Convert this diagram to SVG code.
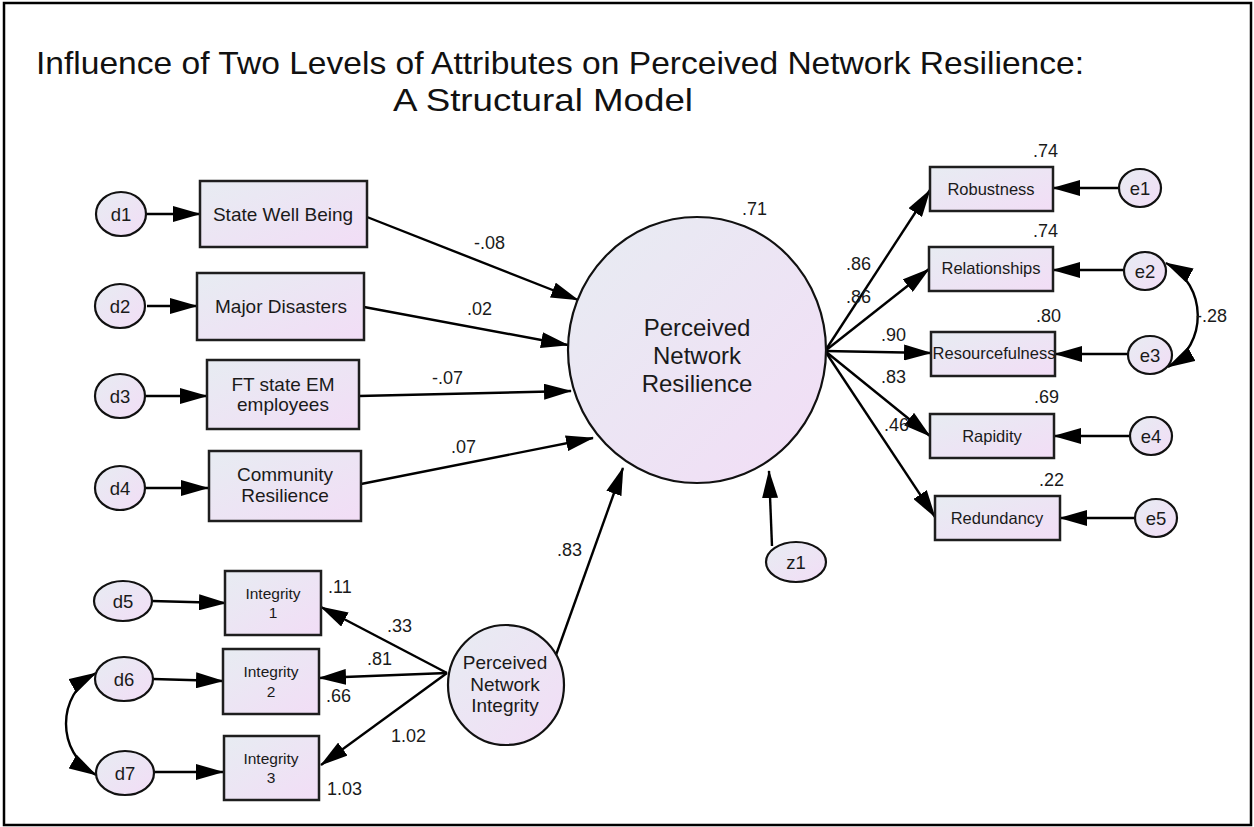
<svg xmlns="http://www.w3.org/2000/svg" width="1254" height="827" viewBox="0 0 1254 827">
<defs>
<linearGradient id="g" x1="0" y1="0" x2="1" y2="1">
<stop offset="0" stop-color="#e7ecf2"/>
<stop offset="1" stop-color="#f2ddf6"/>
</linearGradient>
<marker id="ah" markerUnits="userSpaceOnUse" markerWidth="28" markerHeight="16" refX="27" refY="8" orient="auto-start-reverse">
<path d="M0,0 L28,8 L0,16 z" fill="#000"/>
</marker>
<style>
.box{fill:url(#g);stroke:#1e1e1e;stroke-width:2.5}
.ell{fill:url(#g);stroke:#111;stroke-width:2.2}
.t{font-family:"Liberation Sans",Arial,sans-serif;fill:#1a1a1a;text-anchor:middle}
.lb{font-family:"Liberation Sans",Arial,sans-serif;fill:#1a1a1a;font-size:18px}
.c line,.c path{stroke:#000;stroke-width:2.4;fill:none}
</style>
</defs>
<rect x="0" y="0" width="1254" height="827" fill="#fff"/>
<rect x="4" y="3" width="1247" height="822" fill="none" stroke="#000" stroke-width="2.5"/>
<g id="title" font-family="Liberation Sans, Arial, sans-serif" font-size="32" fill="#111">
<text x="36" y="74" textLength="1048" lengthAdjust="spacingAndGlyphs">Influence of Two Levels of Attributes on Perceived Network  Resilience:</text>
<text x="393" y="111" textLength="300" lengthAdjust="spacingAndGlyphs">A Structural Model</text>
</g>
<g class="c" id="connectors">
<line x1="147" y1="214" x2="200" y2="214" marker-end="url(#ah)"/>
<line x1="147" y1="306" x2="197" y2="306" marker-end="url(#ah)"/>
<line x1="146" y1="396" x2="207" y2="396" marker-end="url(#ah)"/>
<line x1="146" y1="488" x2="208" y2="488" marker-end="url(#ah)"/>
<line x1="152" y1="601" x2="226" y2="603" marker-end="url(#ah)"/>
<line x1="153" y1="679" x2="223" y2="681" marker-end="url(#ah)"/>
<line x1="154" y1="772" x2="223" y2="772" marker-end="url(#ah)"/>
<line x1="367" y1="217" x2="578" y2="300" marker-end="url(#ah)"/>
<line x1="364" y1="307" x2="568" y2="345" marker-end="url(#ah)"/>
<line x1="359" y1="396" x2="571" y2="391" marker-end="url(#ah)"/>
<line x1="361" y1="484" x2="593" y2="438" marker-end="url(#ah)"/>
<line x1="556" y1="655" x2="623" y2="468" marker-end="url(#ah)"/>
<line x1="772" y1="546" x2="769" y2="471" marker-end="url(#ah)"/>
<line x1="447" y1="673" x2="321" y2="607" marker-end="url(#ah)"/>
<line x1="447" y1="673" x2="319" y2="678" marker-end="url(#ah)"/>
<line x1="447" y1="673" x2="321" y2="765" marker-end="url(#ah)"/>
<line x1="825" y1="351" x2="930" y2="190" marker-end="url(#ah)"/>
<line x1="825" y1="351" x2="929" y2="269" marker-end="url(#ah)"/>
<line x1="825" y1="351" x2="931" y2="353" marker-end="url(#ah)"/>
<line x1="825" y1="351" x2="930" y2="436" marker-end="url(#ah)"/>
<line x1="825" y1="351" x2="935" y2="517" marker-end="url(#ah)"/>
<line x1="1119" y1="188" x2="1053" y2="188" marker-end="url(#ah)"/>
<line x1="1124" y1="270" x2="1053" y2="270" marker-end="url(#ah)"/>
<line x1="1128" y1="354" x2="1055" y2="354" marker-end="url(#ah)"/>
<line x1="1130" y1="436" x2="1054" y2="436" marker-end="url(#ah)"/>
<line x1="1135" y1="518" x2="1060" y2="518" marker-end="url(#ah)"/>
<path d="M1166,263 C1208,285 1208,345 1168,367" marker-start="url(#ah)" marker-end="url(#ah)"/>
<path d="M96,673 C56,695 56,752 96,775" marker-start="url(#ah)" marker-end="url(#ah)"/>
</g>
<g id="d1"><ellipse class="ell" cx="121" cy="214" rx="25" ry="22"/><text class="t" x="121" y="221" font-size="18.5">d1</text></g>
<g id="d2"><ellipse class="ell" cx="120" cy="306" rx="25" ry="22"/><text class="t" x="120" y="313" font-size="18.5">d2</text></g>
<g id="d3"><ellipse class="ell" cx="120" cy="396" rx="25" ry="22"/><text class="t" x="120" y="403" font-size="18.5">d3</text></g>
<g id="d4"><ellipse class="ell" cx="120" cy="488" rx="25" ry="22"/><text class="t" x="120" y="495" font-size="18.5">d4</text></g>
<g id="d5"><ellipse class="ell" cx="123" cy="601" rx="29" ry="20"/><text class="t" x="123" y="608" font-size="18.5">d5</text></g>
<g id="d6"><ellipse class="ell" cx="124" cy="679" rx="29" ry="22"/><text class="t" x="124" y="686" font-size="18.5">d6</text></g>
<g id="d7"><ellipse class="ell" cx="125" cy="773" rx="29" ry="22"/><text class="t" x="125" y="780" font-size="18.5">d7</text></g>
<g id="swb"><rect class="box" x="200" y="181" width="167" height="66"/><text class="t" x="283" y="221" font-size="19">State Well Being</text></g>
<g id="md"><rect class="box" x="197" y="273" width="167" height="67"/><text class="t" x="281" y="313" font-size="19">Major Disasters</text></g>
<g id="ft"><rect class="box" x="207" y="360" width="152" height="69"/><text class="t" x="283" y="391" font-size="19">FT state EM</text><text class="t" x="283" y="411" font-size="19">employees</text></g>
<g id="cr"><rect class="box" x="209" y="451" width="152" height="70"/><text class="t" x="285" y="481" font-size="19">Community</text><text class="t" x="285" y="502" font-size="19">Resilience</text></g>
<g id="i1"><rect class="box" x="225" y="571" width="96" height="64"/><text class="t" x="273" y="599" font-size="15.5">Integrity</text><text class="t" x="273" y="618" font-size="15.5">1</text></g>
<g id="i2"><rect class="box" x="223" y="649" width="96" height="65"/><text class="t" x="271" y="677" font-size="15.5">Integrity</text><text class="t" x="271" y="697" font-size="15.5">2</text></g>
<g id="i3"><rect class="box" x="224" y="736" width="95" height="64"/><text class="t" x="271" y="764" font-size="15.5">Integrity</text><text class="t" x="271" y="783" font-size="15.5">3</text></g>
<g id="pnr"><ellipse class="ell" cx="697" cy="350" rx="129" ry="133"/><text class="t" x="697" y="336" font-size="24">Perceived</text><text class="t" x="697" y="364" font-size="24">Network</text><text class="t" x="697" y="392" font-size="24">Resilience</text></g>
<g id="pni"><ellipse class="ell" cx="506" cy="685" rx="58" ry="60"/><text class="t" x="505" y="669" font-size="19">Perceived</text><text class="t" x="505" y="691" font-size="19">Network</text><text class="t" x="505" y="712" font-size="19">Integrity</text></g>
<g id="z1"><ellipse class="ell" cx="796" cy="562" rx="30" ry="20"/><text class="t" x="796" y="569" font-size="18.5">z1</text></g>
<g id="rob"><rect class="box" x="930" y="167" width="123" height="44"/><text class="t" x="991" y="195" font-size="16.5">Robustness</text></g>
<g id="rel"><rect class="box" x="929" y="247" width="124" height="44"/><text class="t" x="991" y="274" font-size="16.5">Relationships</text></g>
<g id="res"><rect class="box" x="931" y="332" width="124" height="44"/><text class="t" x="994" y="359" font-size="16.5">Resourcefulness</text></g>
<g id="rap"><rect class="box" x="930" y="414" width="124" height="44"/><text class="t" x="992" y="442" font-size="16.5">Rapidity</text></g>
<g id="red"><rect class="box" x="935" y="496" width="125" height="44"/><text class="t" x="997" y="524" font-size="16.5">Redundancy</text></g>
<g id="e1"><ellipse class="ell" cx="1140" cy="188" rx="21" ry="19"/><text class="t" x="1140" y="195" font-size="18.5">e1</text></g>
<g id="e2"><ellipse class="ell" cx="1145" cy="271" rx="21" ry="19"/><text class="t" x="1145" y="278" font-size="18.5">e2</text></g>
<g id="e3"><ellipse class="ell" cx="1150" cy="355" rx="22" ry="19"/><text class="t" x="1150" y="362" font-size="18.5">e3</text></g>
<g id="e4"><ellipse class="ell" cx="1151" cy="436" rx="21" ry="19"/><text class="t" x="1151" y="443" font-size="18.5">e4</text></g>
<g id="e5"><ellipse class="ell" cx="1156" cy="518" rx="21" ry="19"/><text class="t" x="1156" y="525" font-size="18.5">e5</text></g>
<g id="labels" class="lb">
<text x="474" y="249">-.08</text>
<text x="467" y="315">.02</text>
<text x="432" y="384">-.07</text>
<text x="451" y="453">.07</text>
<text x="742" y="215">.71</text>
<text x="557" y="556">.83</text>
<text x="328" y="593">.11</text>
<text x="387" y="632">.33</text>
<text x="367" y="665">.81</text>
<text x="326" y="702">.66</text>
<text x="391" y="742">1.02</text>
<text x="327" y="795">1.03</text>
<text x="1033" y="157">.74</text>
<text x="1033" y="237">.74</text>
<text x="1036" y="322">.80</text>
<text x="1034" y="403">.69</text>
<text x="1039" y="486">.22</text>
<text x="846" y="270">.86</text>
<text x="846" y="303">.86</text>
<text x="881" y="341">.90</text>
<text x="881" y="383">.83</text>
<text x="884" y="431">.46</text>
<text x="1196" y="322">-.28</text>
</g>
</svg>
